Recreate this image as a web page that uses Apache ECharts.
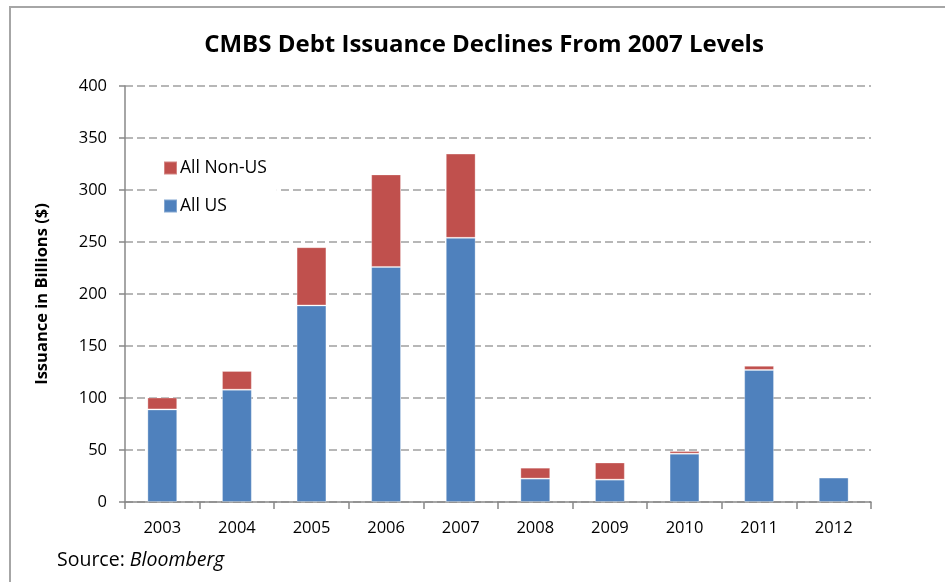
<!DOCTYPE html>
<html>
<head>
<meta charset="utf-8">
<script src="https://cdn.jsdelivr.net/npm/echarts@6/dist/echarts.min.js"></script>
<style>
  html, body { margin: 0; padding: 0; background: #fff; }
  #chart { width: 945px; height: 582px; }
</style>
</head>
<body>
<div id="chart"></div>
<script>
const years = ["2003", "2004", "2005", "2006", "2007", "2008", "2009", "2010", "2011", "2012"];
const allUS = [89, 108, 189, 226, 254, 22.5, 21.5, 46.5, 127, 23.5];
const allNonUS = [11.5, 18, 56, 89, 81, 10.5, 16.5, 2.5, 4, 0.3];
const yTicks = [0, 50, 100, 150, 200, 250, 300, 350, 400];

const myChart = echarts.init(document.getElementById("chart"));

const barStyle = (color) => ({
  color: color,
  borderColor: "rgba(255,255,255,0.3)",
  borderWidth: 1,
});

myChart.setOption({
  animation: false,
  textStyle: { fontFamily: "Open Sans" },
  title: {
    text: "CMBS Debt Issuance Declines From 2007 Levels",
    left: 479,
    textAlign: "center",
    top: 28,
    textStyle: {
      fontFamily: "Open Sans",
      fontWeight: "bold",
      fontSize: 24,
      color: "#000",
    },
  },
  grid: {
    left: 125,
    right: 74,
    top: 86,
    bottom: 80,
  },
  legend: {
    orient: "vertical",
    left: 157,
    top: 155,
    itemWidth: 13,
    itemHeight: 13,
    itemGap: 20,
    padding: [4, 10, 4, 6],
    backgroundColor: "#fff",
    icon: "rect",
    data: ["All Non-US", "All US"],
    textStyle: { fontSize: 17.5, color: "#000", padding: [0, 0, 0, -2] },
  },
  xAxis: {
    type: "category",
    data: years,
    axisLine: { lineStyle: { color: "#888", width: 1.5 } },
    axisTick: { show: true, length: 7, lineStyle: { color: "#888", width: 1.5 } },
    axisLabel: { color: "#000", fontSize: 16.5, margin: 18 },
  },
  yAxis: {
    type: "value",
    min: 0,
    max: 400,
    interval: 50,
    name: "Issuance in Billions ($)",
    nameLocation: "middle",
    nameGap: 74,
    nameTextStyle: {
      fontFamily: "Open Sans",
      fontWeight: "bold",
      fontSize: 16.5,
      color: "#000",
    },
    axisLine: { show: true, lineStyle: { color: "#888", width: 1.5 } },
    axisTick: { show: true, length: 6, lineStyle: { color: "#888", width: 1.5 } },
    axisLabel: {
      color: "#000",
      fontSize: 16.5,
      margin: 18,
      formatter: (v) => (yTicks.includes(v) ? String(v) : ""),
    },
    splitLine: {
      show: true,
      lineStyle: { color: "#a0a0a0", type: [8, 4], width: 1.5 },
    },
  },
  series: [
    {
      name: "All US",
      type: "bar",
      stack: "total",
      barWidth: "40%",
      itemStyle: barStyle("#4f81bd"),
      data: allUS,
    },
    {
      name: "All Non-US",
      type: "bar",
      stack: "total",
      barWidth: "40%",
      itemStyle: barStyle("#c0504d"),
      data: allNonUS,
    },
  ],
  graphic: [
    {
      type: "polyline",
      shape: { points: [[10, 582], [10, 7], [945, 7]] },
      style: { stroke: "#a6a6a6", lineWidth: 2, fill: null },
      silent: true,
    },
    {
      type: "text",
      left: 57,
      top: 550,
      style: {
        text: "{a|Source: }{b|Bloomberg}",
        rich: {
          a: { fontFamily: "Open Sans", fontSize: 19.5, fill: "#000" },
          b: { fontFamily: "Open Sans", fontSize: 19.5, fontStyle: "italic", fill: "#000" },
        },
      },
    },
  ],
});
</script>
</body>
</html>
